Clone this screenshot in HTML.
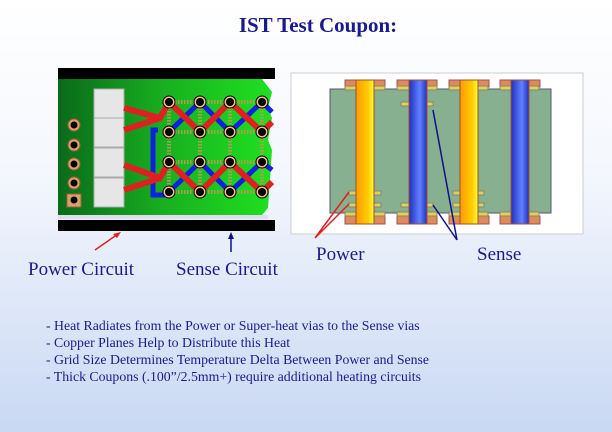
<!DOCTYPE html>
<html><head><style>
body{margin:0;width:612px;height:432px;overflow:hidden;background:linear-gradient(#ffffff 0%,#f4f7fd 40%,#c9d8f3 100%);font-family:"Liberation Serif",serif;color:#1a1a8c}
</style></head><body>
<svg width="612" height="432" style="position:absolute;left:0;top:0" font-family="Liberation Serif, serif">
<defs>
<linearGradient id="g" x1="0" x2="1"><stop offset="0" stop-color="#0a6a1a"/><stop offset="0.5" stop-color="#18b020"/><stop offset="1" stop-color="#20e020"/></linearGradient>
<linearGradient id="o" x1="0" x2="1"><stop offset="0" stop-color="#ff9a00"/><stop offset="0.7" stop-color="#ffd000"/><stop offset="1" stop-color="#ffff40"/></linearGradient>
<linearGradient id="b" x1="0" x2="1"><stop offset="0" stop-color="#2030c0"/><stop offset="0.6" stop-color="#6080ff"/><stop offset="1" stop-color="#2030c0"/></linearGradient>
</defs>
<text x="318" y="32" text-anchor="middle" font-size="21" font-weight="bold" fill="#1a1a8c">IST Test Coupon:</text>
<rect x="58" y="68" width="217" height="11" fill="#000"/>
<rect x="58" y="220" width="217" height="11" fill="#000"/>
<polygon points="58,79 262,79 272,92 268,108 272,118 268,140 272,150 268,208 262,215 58,215" fill="url(#g)"/>
<rect x="58" y="215" width="210" height="4" fill="#dde"/>
<g fill="#d9a070" stroke="#a06030"><circle cx="74" cy="125" r="6"/><circle cx="74" cy="145" r="6"/><circle cx="74" cy="164" r="6"/><circle cx="74" cy="183" r="6"/><rect x="67" y="194" width="14" height="13"/></g>
<g fill="#000"><circle cx="74" cy="125" r="3.5"/><circle cx="74" cy="145" r="3.5"/><circle cx="74" cy="164" r="3.5"/><circle cx="74" cy="183" r="3.5"/><circle cx="74" cy="200" r="3.5"/></g>
<g fill="#e6e6e6" stroke="#aaa"><rect x="94" y="89" width="30" height="29"/><rect x="94" y="118" width="30" height="29"/><rect x="94" y="148" width="30" height="29"/><rect x="94" y="178" width="30" height="29"/></g>
<g fill="none" stroke="#a8a050" stroke-width="4" stroke-dasharray="1.5 1.5">
<path d="M169 102H262M169 132H262M169 162H262M169 192H262M169 102V192M200 102V192M230 102V192M262 102V192"/></g>
<path d="M158 130H153V195H169" stroke="#1020e0" stroke-width="5" fill="none"/>
<g stroke="#1020e0" stroke-width="5" fill="none"><path d="M169 132L200 102L230 132L262 102L272 112"/><path d="M169 192L200 162L230 192L262 162L272 170"/></g>
<g stroke="#e02020" stroke-width="6" fill="none"><path d="M124 108L160 118L169 102L200 132L230 102L262 132L272 122"/><path d="M124 130L160 118"/><path d="M124 165L160 178L169 162L200 192L230 162L262 192L272 182"/><path d="M124 190L160 178"/></g>
<g fill="#f0c090" stroke="#000" stroke-width="1"><circle cx="169" cy="102" r="6"/><circle cx="200" cy="102" r="6"/><circle cx="230" cy="102" r="6"/><circle cx="262" cy="102" r="6"/><circle cx="169" cy="132" r="6"/><circle cx="200" cy="132" r="6"/><circle cx="230" cy="132" r="6"/><circle cx="262" cy="132" r="6"/><circle cx="169" cy="162" r="6"/><circle cx="200" cy="162" r="6"/><circle cx="230" cy="162" r="6"/><circle cx="262" cy="162" r="6"/><circle cx="169" cy="192" r="6"/><circle cx="200" cy="192" r="6"/><circle cx="230" cy="192" r="6"/><circle cx="262" cy="192" r="6"/></g>
<g fill="#000"><circle cx="169" cy="102" r="4"/><circle cx="200" cy="102" r="4"/><circle cx="230" cy="102" r="4"/><circle cx="262" cy="102" r="4"/><circle cx="169" cy="132" r="4"/><circle cx="200" cy="132" r="4"/><circle cx="230" cy="132" r="4"/><circle cx="262" cy="132" r="4"/><circle cx="169" cy="162" r="4"/><circle cx="200" cy="162" r="4"/><circle cx="230" cy="162" r="4"/><circle cx="262" cy="162" r="4"/><circle cx="169" cy="192" r="4"/><circle cx="200" cy="192" r="4"/><circle cx="230" cy="192" r="4"/><circle cx="262" cy="192" r="4"/></g>
<rect x="291" y="73" width="292" height="161" fill="#fff" stroke="#ccc"/>
<rect x="330" y="89" width="221" height="124" fill="#86b090" stroke="#557"/>
<g fill="#e08a5a" stroke="#955"><rect x="345" y="80" width="40" height="7"/><rect x="397" y="80" width="40" height="7"/><rect x="449" y="80" width="40" height="7"/><rect x="500" y="80" width="40" height="7"/><rect x="345" y="216" width="40" height="8"/><rect x="397" y="216" width="40" height="8"/><rect x="449" y="216" width="40" height="8"/><rect x="500" y="216" width="40" height="8"/></g>
<g fill="#e0d060" stroke="#886"><rect x="345" y="86" width="12" height="4"/><rect x="373" y="86" width="12" height="4"/><rect x="397" y="86" width="12" height="4"/><rect x="425" y="86" width="12" height="4"/><rect x="449" y="86" width="12" height="4"/><rect x="476" y="86" width="12" height="4"/><rect x="500" y="86" width="12" height="4"/><rect x="527" y="86" width="12" height="4"/>
<rect x="345" y="212" width="12" height="4"/><rect x="373" y="212" width="12" height="4"/><rect x="397" y="212" width="12" height="4"/><rect x="425" y="212" width="12" height="4"/><rect x="449" y="212" width="12" height="4"/><rect x="476" y="212" width="12" height="4"/><rect x="500" y="212" width="12" height="4"/><rect x="527" y="212" width="12" height="4"/>
<rect x="401" y="102" width="8" height="4"/><rect x="425" y="102" width="8" height="4"/><rect x="349" y="191" width="8" height="4"/><rect x="373" y="191" width="8" height="4"/><rect x="349" y="203" width="8" height="4"/><rect x="373" y="203" width="8" height="4"/><rect x="401" y="203" width="8" height="4"/><rect x="425" y="203" width="8" height="4"/><rect x="453" y="191" width="8" height="4"/><rect x="476" y="191" width="8" height="4"/><rect x="453" y="203" width="8" height="4"/><rect x="476" y="203" width="8" height="4"/></g>
<g stroke="#a05030" stroke-width="1"><rect x="356" y="80" width="18" height="144" fill="url(#o)"/><rect x="460" y="80" width="18" height="144" fill="url(#o)"/><rect x="409" y="80" width="18" height="144" fill="url(#b)"/><rect x="511" y="80" width="18" height="144" fill="url(#b)"/></g>
<g stroke="#e02020" stroke-width="1.5"><path d="M315 238L349 192M315 238L349 204"/></g>
<g stroke="#10108c" stroke-width="1.5"><path d="M457 240L433 110M457 240L433 205"/></g>
<path d="M95 250L118 234" stroke="#e02020" stroke-width="1.5"/><polygon points="121,232 113,234 117,238" fill="#e02020"/>
<path d="M231 252V236" stroke="#10108c" stroke-width="1.5"/><polygon points="231,232 228,239 234,239" fill="#10108c"/>
<g font-size="19" fill="#1a1a8c"><text x="28" y="275">Power Circuit</text><text x="176" y="275">Sense Circuit</text><text x="316" y="260">Power</text><text x="477" y="260">Sense</text></g>
<g font-size="13.8" fill="#1a1a8c"><text x="46" y="330">- Heat Radiates from the Power or Super-heat vias to the Sense vias</text><text x="46" y="347">- Copper Planes Help to Distribute this Heat</text><text x="46" y="364">- Grid Size Determines Temperature Delta Between Power and Sense</text><text x="46" y="381">- Thick Coupons (.100”/2.5mm+) require additional heating circuits</text></g>
</svg>
</body></html>
